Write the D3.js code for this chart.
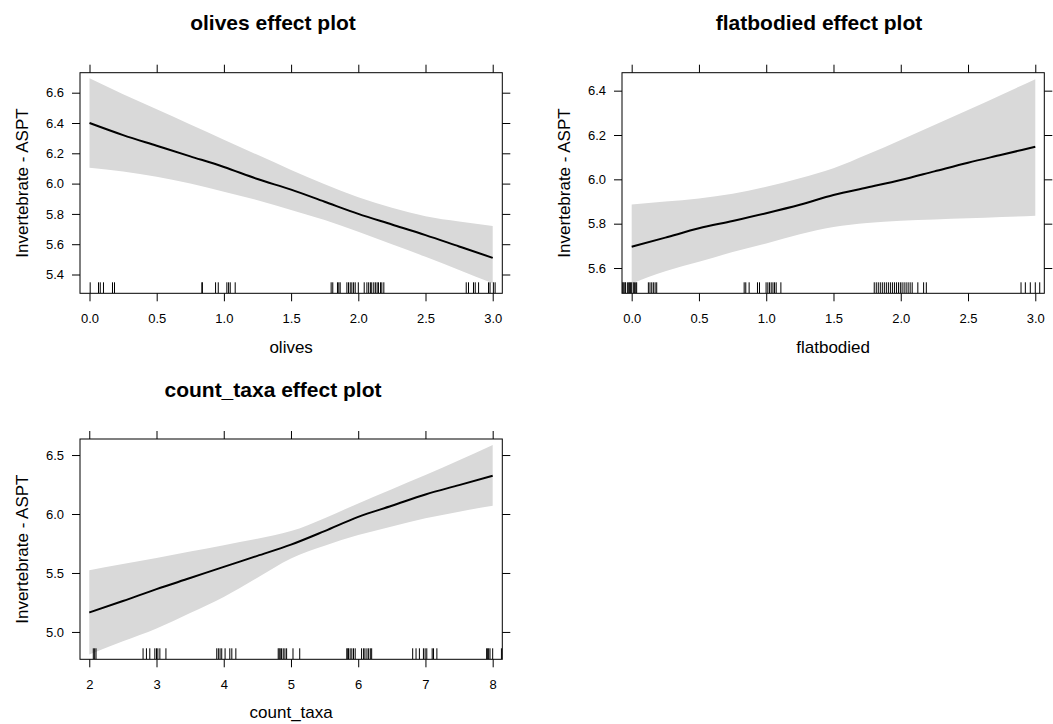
<!DOCTYPE html>
<html><head><meta charset="utf-8">
<script src="https://cdn.jsdelivr.net/npm/d3@7"></script>
<style>
html,body{margin:0;padding:0;background:#fff;}
svg{display:block;font-family:"Liberation Sans",Arial,sans-serif;}
</style></head>
<body><svg id="chart" width="1053" height="724"></svg>
<script>
// ---------- data ----------
const yLabel = "Invertebrate - ASPT";

const olivesX     = [0, 0.25, 0.5, 0.75, 1.0, 1.25, 1.5, 1.75, 2.0, 2.25, 2.5, 2.75, 3.0];
const olivesFit   = [6.40, 6.32, 6.25, 6.18, 6.11, 6.03, 5.96, 5.88, 5.80, 5.73, 5.66, 5.585, 5.51];
const olivesLower = [6.105, 6.08, 6.046, 6.00, 5.947, 5.89, 5.826, 5.76, 5.683, 5.60, 5.517, 5.43, 5.342];
const olivesUpper = [6.695, 6.59, 6.49, 6.39, 6.29, 6.19, 6.09, 5.995, 5.91, 5.84, 5.785, 5.75, 5.72];
const olivesRug   = [0.005, 0.067, 0.08, 0.104, 0.171, 0.186, 0.836, 0.84, 0.938, 0.958, 1.022, 1.035, 1.047, 1.084,
  1.798, 1.81, 1.845, 1.855, 1.865, 1.915, 1.927, 1.94, 1.952, 1.965, 1.977, 2.0, 2.044, 2.064, 2.077, 2.09, 2.10,
  2.115, 2.127, 2.14, 2.15, 2.165, 2.175, 2.19, 2.803, 2.82, 2.857, 2.87, 2.895, 2.969, 2.98, 3.005, 3.018];
const olivesXTicks = [0, 0.5, 1.0, 1.5, 2.0, 2.5, 3.0];
const olivesYTicks = [5.4, 5.6, 5.8, 6.0, 6.2, 6.4, 6.6];

const flatX     = [0, 0.25, 0.5, 0.75, 1.0, 1.25, 1.5, 1.75, 2.0, 2.25, 2.5, 2.75, 3.0];
const flatFit   = [5.696, 5.737, 5.779, 5.812, 5.847, 5.885, 5.929, 5.963, 5.997, 6.036, 6.075, 6.111, 6.147];
const flatLower = [5.53, 5.585, 5.628, 5.672, 5.711, 5.752, 5.785, 5.803, 5.813, 5.819, 5.824, 5.83, 5.836];
const flatUpper = [5.887, 5.90, 5.914, 5.935, 5.967, 6.005, 6.05, 6.112, 6.178, 6.245, 6.313, 6.382, 6.451];
const flatRug   = [-0.072, -0.065, -0.058, -0.05, -0.045, -0.03, -0.022, -0.015, -0.008, 0, 0.012, 0.02, 0.03, 0.037,
  0.124, 0.136, 0.149, 0.161, 0.174, 0.186, 0.836, 0.848, 0.873, 0.935, 0.95, 0.999, 1.012, 1.024, 1.037, 1.05, 1.062,
  1.074, 1.109, 1.803, 1.818, 1.833, 1.848, 1.863, 1.878, 1.893, 1.908, 1.923, 1.938, 1.953, 1.968, 1.983, 1.997,
  2.01, 2.025, 2.04, 2.055, 2.07, 2.085, 2.127, 2.17, 2.19, 2.894, 2.926, 2.963, 3.0, 3.033];
const flatXTicks = [0, 0.5, 1.0, 1.5, 2.0, 2.5, 3.0];
const flatYTicks = [5.6, 5.8, 6.0, 6.2, 6.4];

const taxaX     = [2, 2.5, 3, 3.5, 4, 4.5, 5, 5.5, 6, 6.5, 7, 7.5, 8];
const taxaFit   = [5.165, 5.262, 5.363, 5.457, 5.552, 5.645, 5.740, 5.855, 5.976, 6.07, 6.166, 6.245, 6.324];
const taxaLower = [4.808, 4.92, 5.029, 5.16, 5.297, 5.46, 5.623, 5.73, 5.821, 5.895, 5.963, 6.02, 6.07];
const taxaUpper = [5.524, 5.576, 5.628, 5.682, 5.736, 5.79, 5.855, 5.965, 6.09, 6.21, 6.33, 6.455, 6.585];
const taxaRug   = [2.06, 2.08, 2.1, 2.80, 2.85, 2.90, 2.975, 3.0, 3.02, 3.05, 3.14, 3.896, 3.92, 3.945, 3.97, 4.02,
  4.09, 4.12, 4.18, 4.81, 4.825, 4.84, 4.86, 4.885, 4.91, 4.935, 5.03, 5.13, 5.83, 5.845, 5.855, 5.88, 5.905, 5.93,
  5.955, 6.05, 6.08, 6.1, 6.13, 6.155, 6.18, 6.2, 6.81, 6.86, 6.91, 6.97, 6.995, 7.02, 7.1, 7.12, 7.17,
  7.91, 7.925, 7.94, 7.96, 8.0, 8.13];
const taxaXTicks = [2, 3, 4, 5, 6, 7, 8];
const taxaYTicks = [5.0, 5.5, 6.0, 6.5];

// ---------- drawing ----------
const svg = d3.select("#chart");

const panels = [
  {name:"olives", x:olivesX, fit:olivesFit, lo:olivesLower, hi:olivesUpper, rug:olivesRug,
   xt:olivesXTicks, yt:olivesYTicks, xf:d3.format(".1f"), yf:d3.format(".1f"),
   xdom:[-0.0707, 3.0714], ydom:[5.276, 6.732],
   left:80, top:72.7, w:422.3, h:220.6, titleX:273, titleY:30, xlabY:353},
  {name:"flatbodied", x:flatX, fit:flatFit, lo:flatLower, hi:flatUpper, rug:flatRug,
   xt:flatXTicks, yt:flatYTicks, xf:d3.format(".1f"), yf:d3.format(".1f"),
   xdom:[-0.072, 3.067], ydom:[5.486, 6.481],
   left:622, top:72.7, w:422.3, h:220.6, titleX:819, titleY:30, xlabY:353},
  {name:"count_taxa", x:taxaX, fit:taxaFit, lo:taxaLower, hi:taxaUpper, rug:taxaRug,
   xt:taxaXTicks, yt:taxaYTicks, xf:d3.format("d"), yf:d3.format(".1f"),
   xdom:[1.862, 8.143], ydom:[4.768, 6.636],
   left:80, top:439, w:422.3, h:220.3, titleX:273, titleY:397, xlabY:718}
];

panels.forEach((p, i) => {
  const xs = d3.scaleLinear().domain(p.xdom).range([p.left, p.left + p.w]);
  const ys = d3.scaleLinear().domain(p.ydom).range([p.top + p.h, p.top]);
  const g = svg.append("g");

  const clipId = "clip" + i;
  svg.append("clipPath").attr("id", clipId)
    .append("rect").attr("x", p.left).attr("y", p.top).attr("width", p.w).attr("height", p.h);

  const pts = p.x.map((v, k) => ({x:v, fit:p.fit[k], lo:p.lo[k], hi:p.hi[k]}));

  const inner = g.append("g").attr("clip-path", `url(#${clipId})`);
  inner.append("path").datum(pts)
    .attr("d", d3.area().curve(d3.curveMonotoneX).x(d => xs(d.x)).y0(d => ys(d.lo)).y1(d => ys(d.hi)))
    .attr("fill", "#d9d9d9").attr("stroke", "none");

  inner.selectAll("line.rug").data(p.rug).enter().append("line")
    .attr("x1", d => xs(d)).attr("x2", d => xs(d))
    .attr("y1", p.top + p.h).attr("y2", p.top + p.h - 11)
    .attr("stroke", "#000").attr("stroke-width", 1);

  inner.append("path").datum(pts)
    .attr("d", d3.line().curve(d3.curveMonotoneX).x(d => xs(d.x)).y(d => ys(d.fit)))
    .attr("fill", "none").attr("stroke", "#000").attr("stroke-width", 2);

  // axes
  const fs = "13px";
  const ax = (axis, tx, ty, labels) => {
    const a = g.append("g").attr("transform", `translate(${tx},${ty})`).call(axis);
    a.select(".domain").remove();
    a.selectAll(".tick line").attr("stroke", "#000").attr("stroke-width", 1);
    a.selectAll(".tick text").attr("fill", "#000").style("font-size", fs)
      .style("font-family", '"Liberation Sans",Arial,sans-serif');
    if (!labels) a.selectAll(".tick text").remove();
    return a;
  };
  ax(d3.axisBottom(xs).tickValues(p.xt).tickFormat(p.xf).tickSize(8).tickPadding(12), 0, p.top + p.h, true);
  ax(d3.axisTop(xs).tickValues(p.xt).tickSize(8), 0, p.top, false);
  ax(d3.axisLeft(ys).tickValues(p.yt).tickFormat(p.yf).tickSize(8).tickPadding(8), p.left, 0, true);
  ax(d3.axisRight(ys).tickValues(p.yt).tickSize(8), p.left + p.w, 0, false);

  g.append("rect").attr("x", p.left).attr("y", p.top).attr("width", p.w).attr("height", p.h)
    .attr("fill", "none").attr("stroke", "#000").attr("stroke-width", 1);

  g.append("text").attr("x", p.titleX).attr("y", p.titleY).attr("text-anchor", "middle")
    .style("font-size", "21px").style("font-weight", "bold").text(p.name + " effect plot");

  g.append("text").attr("x", p.left + p.w / 2).attr("y", p.xlabY).attr("text-anchor", "middle")
    .style("font-size", "17px").attr("fill", "#000").text(p.name);

  g.append("text")
    .attr("transform", `translate(${p.left - 52},${p.top + p.h / 2}) rotate(-90)`)
    .attr("text-anchor", "middle").style("font-size", "17px").attr("fill", "#000").text(yLabel);
});
</script>
</body></html>
